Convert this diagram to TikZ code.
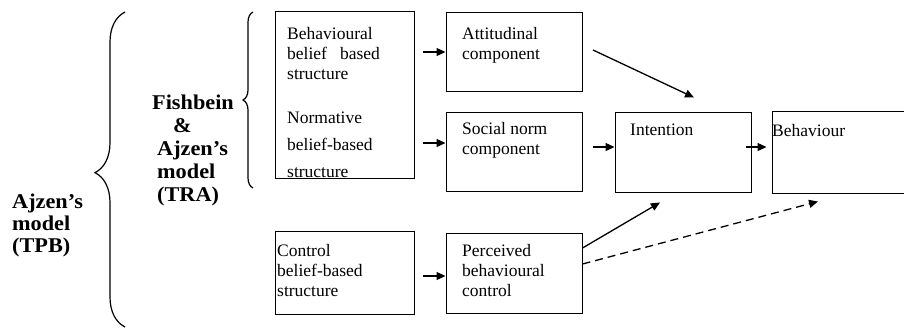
\documentclass[tikz,border=0pt]{standalone}
\usepackage{fontspec}
\setmainfont{Liberation Serif}
\newfontfamily\lblfont[FakeStretch=1.06,Ligatures=TeX]{Liberation Serif}
\usetikzlibrary{arrows.meta,decorations.pathreplacing}

\tikzset{
  box/.style={draw, line width=1pt, inner sep=0pt},
  txt/.style={anchor=north west, align=left, inner sep=0pt, font=\fontsize{17.5}{20}\selectfont},
  lbl/.style={anchor=north west, align=left, inner sep=0pt, font=\lblfont\fontsize{21}{23}\selectfont\bfseries},
  arr/.style={-{Triangle[length=9pt,width=8pt]}, line width=1.3pt},
  brc/.style={decorate, line width=1.2pt, decoration={brace, amplitude=#1}},
}

\begin{document}
\begin{tikzpicture}[x=1pt,y=-1pt]
    \useasboundingbox (0,0) rectangle (904,330);

    % boxes
    \node[box, minimum width=139, minimum height=167] at (344.5,94.5)(beh){};
    \node[box, minimum width=136, minimum height=79] at (514,51.5)(att){};
    \node[box, minimum width=136, minimum height=79] at (514,151.5)(soc){};
    \node[box, minimum width=139, minimum height=83] at (344.5,272.5)(ctl){};
    \node[box, minimum width=136, minimum height=80] at (514,273)(pbc){};
    \node[box, minimum width=136, minimum height=80] at (683,152)(int){};
    \node[box, minimum width=140, minimum height=82] at (842,152)(bhv){};

    % box texts
    \node[txt] at (287,27)(behtxt){Behavioural\\belief\hspace{13pt}based\\structure};
    \node[txt, font=\fontsize{17.5}{27}\selectfont] at (287,112)(nrmtxt){Normative\\belief-based\\structure};
    \node[txt] at (462,27)(atttxt){Attitudinal\\component};
    \node[txt] at (462,122)(soctxt){Social norm\\component};
    \node[txt] at (277,244)(ctltxt){Control\\belief-based\\structure};
    \node[txt] at (462,244)(pbctxt){Perceived\\behavioural\\control};
    \node[txt] at (630,124)(inttxt){Intention};
    \node[txt] at (772,124)(bhvtxt){Behaviour};

    % model labels
    \node[lbl, font=\lblfont\fontsize{21}{22}\selectfont\bfseries] at (12,194)(tpb){Ajzen's\\model\\(TPB)};
    \node[lbl] at (157,95)(tra){\hspace*{-5pt}Fishbein\\\hspace*{16pt}\&\\Ajzen's\\model\\(TRA)};

    % braces
    \coordinate (tpbbot) at (125,327);
    \coordinate (tpbtop) at (125,12);
    \coordinate (trabot) at (253,188);
    \coordinate (tratop) at (253,12);
    \draw[brc=30, decoration={aspect=0.49}] (tpbbot) -- (tpbtop);
    \draw[brc=10, decoration={aspect=0.5}] (trabot) -- (tratop);

    % arrow tails
    \coordinate (a1) at (423,52);
    \coordinate (a2) at (423,143);
    \coordinate (a3) at (423,276);
    \coordinate (a4) at (593,147);
    \coordinate (a5) at (746,147);
    \coordinate (a6) at (593,50);

    \path[arr]
        (a1)edge(a1 -| att.west)
        (a2)edge(a2 -| soc.west)
        (a3)edge(a3 -| pbc.west)
        (a4)edge(a4 -| int.west)
        (a5)edge([xshift=-5pt]a5 -| bhv.west)
        (a6)edge([shift={(11,-14)}]int.north)
        ([shift={(0,-25)}]pbc.east)edge([shift={(-23,10)}]int.south)
        ([shift={(0,-9)}]pbc.east)edge[dash pattern=on 8pt off 5pt]([shift={(-24,8)}]bhv.south)
        ;
\end{tikzpicture}
\end{document}
